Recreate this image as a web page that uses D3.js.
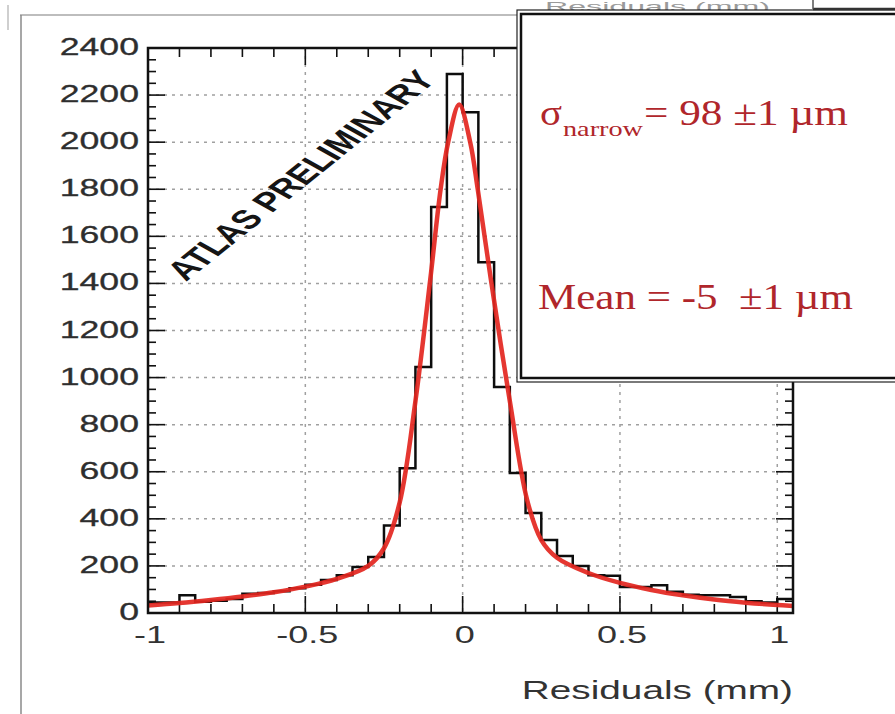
<!DOCTYPE html>
<html>
<head>
<meta charset="utf-8">
<script src="https://cdn.jsdelivr.net/npm/d3@7"></script>
<style>
  html, body { margin: 0; padding: 0; background: #fff; }
  svg { display: block; }
</style>
</head>
<body>
<svg id="chart" width="895" height="714"></svg>
<script>
// Lower edges of the 0.05 mm residual bins
const binLow = [-1.00, -0.95, -0.90, -0.85, -0.80, -0.75, -0.70, -0.65, -0.60, -0.55,
                -0.50, -0.45, -0.40, -0.35, -0.30, -0.25, -0.20, -0.15, -0.10, -0.05,
                 0.00,  0.05,  0.10,  0.15,  0.20,  0.25,  0.30,  0.35,  0.40,  0.45,
                 0.50,  0.55,  0.60,  0.65,  0.70,  0.75,  0.80,  0.85,  0.90,  0.95, 1.00];
const binHigh = 1.05;
// Entries per bin
const counts = [45, 45, 75, 48, 52, 60, 82, 85, 92, 105,
                120, 140, 160, 195, 238, 372, 615, 1045, 1725, 2290,
                2127, 1490, 960, 595, 425, 310, 242, 200, 160, 158,
                110, 110, 118, 90, 78, 75, 75, 68, 50, 45, 60];

// Fitted double-Gaussian curve, sampled
const fitX = [-1.0, -0.9, -0.8, -0.7, -0.6, -0.5, -0.4, -0.3, -0.25, -0.2, -0.15, -0.103,
              -0.07, -0.046, -0.011, 0.024, 0.048, 0.09, 0.15, 0.205, 0.25, 0.3, 0.4,
              0.5, 0.6, 0.7, 0.8, 0.9, 1.0, 1.05];
const fitY = [32, 42, 55, 70, 88, 112, 145, 200, 275, 470, 900, 1415,
              1800, 2000, 2160, 2000, 1800, 1415, 900, 480, 310, 235, 170,
              128, 98, 75, 57, 44, 34, 30];

const yTicks = [0, 200, 400, 600, 800, 1000, 1200, 1400, 1600, 1800, 2000, 2200, 2400];
const xTicks = [-1, -0.5, 0, 0.5, 1];
const xTickLabels = ["-1", "-0.5", "0", "0.5", "1"];
const xLabel = "Residuals (mm)";
const stampText = "ATLAS PRELIMINARY";
const sigmaText = ["\u03C3", "narrow", "= 98 \u00B11 \u00B5m"];
const meanText = "Mean = -5  \u00B11 \u00B5m";

const svg = d3.select("#chart");
const plotL = 148, plotR = 793, plotT = 48, plotB = 613;

const x = d3.scaleLinear().domain([-1, binHigh]).range([plotL, plotR]);
const y = d3.scaleLinear().domain([0, 2400]).range([plotB, plotT]);

const sans = "'Liberation Sans', Arial, Helvetica, sans-serif";
const serif = "'Liberation Serif', 'Times New Roman', serif";

// Page decorations around the figure
svg.append("line").attr("x1", 8).attr("x2", 8).attr("y1", 5).attr("y2", 30)
   .attr("stroke", "#cfcfcf").attr("stroke-width", 2);
svg.append("line").attr("x1", 20).attr("x2", 520).attr("y1", 15).attr("y2", 15)
   .attr("stroke", "#bdbdbd").attr("stroke-width", 2);
svg.append("line").attr("x1", 21).attr("x2", 21).attr("y1", 15).attr("y2", 714)
   .attr("stroke", "#8a8a8a").attr("stroke-width", 1.5);

// Grid
const grid = svg.append("g").attr("stroke", "#a0a0a0").attr("stroke-width", 1.5)
   .attr("stroke-dasharray", "3,5");
grid.selectAll("line.gy").data(yTicks.filter(v => v > 0 && v < 2400)).join("line")
   .attr("x1", plotL).attr("x2", plotR).attr("y1", d => y(d)).attr("y2", d => y(d));
grid.selectAll("line.gx").data(xTicks.filter(v => v > -1)).join("line")
   .attr("x1", d => x(d)).attr("x2", d => x(d)).attr("y1", plotT).attr("y2", plotB);

// Axes with inward ticks
const xMinor = d3.range(-1, 1.051, 0.1).map(v => +v.toFixed(2));
const yMinor = d3.range(0, 2401, 50);
const ax = svg.append("g").attr("stroke", "#111").attr("stroke-width", 1.6);
ax.selectAll("line.xb").data(xMinor).join("line")
  .attr("x1", d => x(d)).attr("x2", d => x(d))
  .attr("y1", plotB).attr("y2", d => plotB - (xTicks.includes(d) ? 17 : 9));
ax.selectAll("line.xt").data(xMinor).join("line")
  .attr("x1", d => x(d)).attr("x2", d => x(d))
  .attr("y1", plotT).attr("y2", d => plotT + (xTicks.includes(d) ? 17 : 9));
ax.selectAll("line.yl").data(yMinor).join("line")
  .attr("x1", plotL).attr("x2", d => plotL + (d % 200 === 0 ? 17 : 8))
  .attr("y1", d => y(d)).attr("y2", d => y(d));
ax.selectAll("line.yr").data(yMinor).join("line")
  .attr("x1", plotR).attr("x2", d => plotR - (d % 200 === 0 ? 17 : 8))
  .attr("y1", d => y(d)).attr("y2", d => y(d));

// Histogram outline
const stepPts = binLow.map((b, i) => [b, counts[i]]);
stepPts.push([binHigh, counts[counts.length - 1]]);
const stepLine = d3.line().x(d => x(d[0])).y(d => y(d[1])).curve(d3.curveStepAfter);
svg.append("path").datum(stepPts).attr("d", stepLine)
   .attr("fill", "none").attr("stroke", "#0d0d0d").attr("stroke-width", 2.5);

// Fit curve
svg.append("clipPath").attr("id", "plotclip").append("rect")
   .attr("x", plotL).attr("y", plotT).attr("width", plotR - plotL).attr("height", plotB - plotT);
const fitLine = d3.line().x((d, i) => x(fitX[i])).y(d => y(d)).curve(d3.curveCatmullRom.alpha(0.5));
svg.append("path").datum(fitY).attr("d", fitLine).attr("clip-path", "url(#plotclip)")
   .attr("fill", "none").attr("stroke", "#e3261f").attr("stroke-width", 4.5)
   .attr("stroke-linejoin", "round").attr("stroke-opacity", 0.92);

// Frame
svg.append("rect").attr("x", plotL).attr("y", plotT).attr("width", plotR - plotL).attr("height", plotB - plotT)
   .attr("fill", "none").attr("stroke", "#111").attr("stroke-width", 2.5);

// Tick labels (wide glyphs)
svg.selectAll("g.ylab").data(yTicks).join("g")
   .attr("transform", d => `translate(139,${y(d) + 1}) scale(1.55,1)`)
   .append("text").text(d => d)
   .attr("text-anchor", "end").attr("dominant-baseline", "middle")
   .attr("font-family", sans).attr("font-size", 23).attr("fill", "#2e2e2e")
   .attr("stroke", "#2e2e2e").attr("stroke-width", 0.3);
svg.selectAll("g.xlab").data(xTicks).join("g")
   .attr("transform", d => `translate(${x(d) + 2},637) scale(1.5,1)`)
   .append("text").text((d, i) => xTickLabels[i])
   .attr("text-anchor", "middle").attr("dominant-baseline", "middle")
   .attr("font-family", sans).attr("font-size", 24).attr("fill", "#333");
svg.append("g").attr("transform", "translate(793,699) scale(1.55,1)")
   .append("text").text(xLabel).attr("text-anchor", "end")
   .attr("font-family", sans).attr("font-size", 25).attr("fill", "#333");

// Rotated stamp
svg.append("g").attr("transform", "translate(186,282) scale(1.5,1) rotate(-50.3)")
   .append("text").text(stampText)
   .attr("font-family", sans).attr("font-weight", "bold").attr("font-size", 27)
   .attr("textLength", 262).attr("lengthAdjust", "spacingAndGlyphs").attr("fill", "#151515");

// Remnant of a title behind the box
svg.append("text").text(xLabel).attr("x", 545).attr("y", 11)
   .attr("font-family", sans).attr("font-size", 13).attr("fill", "#9a9a9a")
   .attr("textLength", 225).attr("lengthAdjust", "spacingAndGlyphs");

// Fit result box
svg.append("rect").attr("x", 517).attr("y", 10).attr("width", 400).attr("height", 372)
   .attr("fill", "#fff").attr("stroke", "#222").attr("stroke-width", 1.2);
svg.append("rect").attr("x", 521).attr("y", 14).attr("width", 400).attr("height", 364)
   .attr("fill", "none").attr("stroke", "#111").attr("stroke-width", 2.5);
svg.append("line").attr("x1", 813).attr("x2", 895).attr("y1", 9).attr("y2", 9)
   .attr("stroke", "#333").attr("stroke-width", 2.5);
svg.append("line").attr("x1", 813).attr("x2", 813).attr("y1", 0).attr("y2", 9)
   .attr("stroke", "#555").attr("stroke-width", 1.5);

const red = "#b0262b";
svg.append("text").text(sigmaText[0]).attr("x", 540).attr("y", 125)
   .attr("font-family", serif).attr("font-size", 36).attr("fill", red)
   .attr("textLength", 22).attr("lengthAdjust", "spacingAndGlyphs");
svg.append("text").text(sigmaText[1]).attr("x", 563).attr("y", 136)
   .attr("font-family", serif).attr("font-size", 21).attr("fill", red)
   .attr("textLength", 80).attr("lengthAdjust", "spacingAndGlyphs");
svg.append("text").text(sigmaText[2]).attr("x", 644).attr("y", 125)
   .attr("font-family", serif).attr("font-size", 35).attr("fill", red)
   .attr("textLength", 204).attr("lengthAdjust", "spacingAndGlyphs");
svg.append("text").text(meanText).attr("x", 538).attr("y", 309)
   .attr("font-family", serif).attr("font-size", 35).attr("fill", red)
   .style("white-space", "pre")
   .attr("textLength", 315).attr("lengthAdjust", "spacingAndGlyphs");
</script>
</body>
</html>
